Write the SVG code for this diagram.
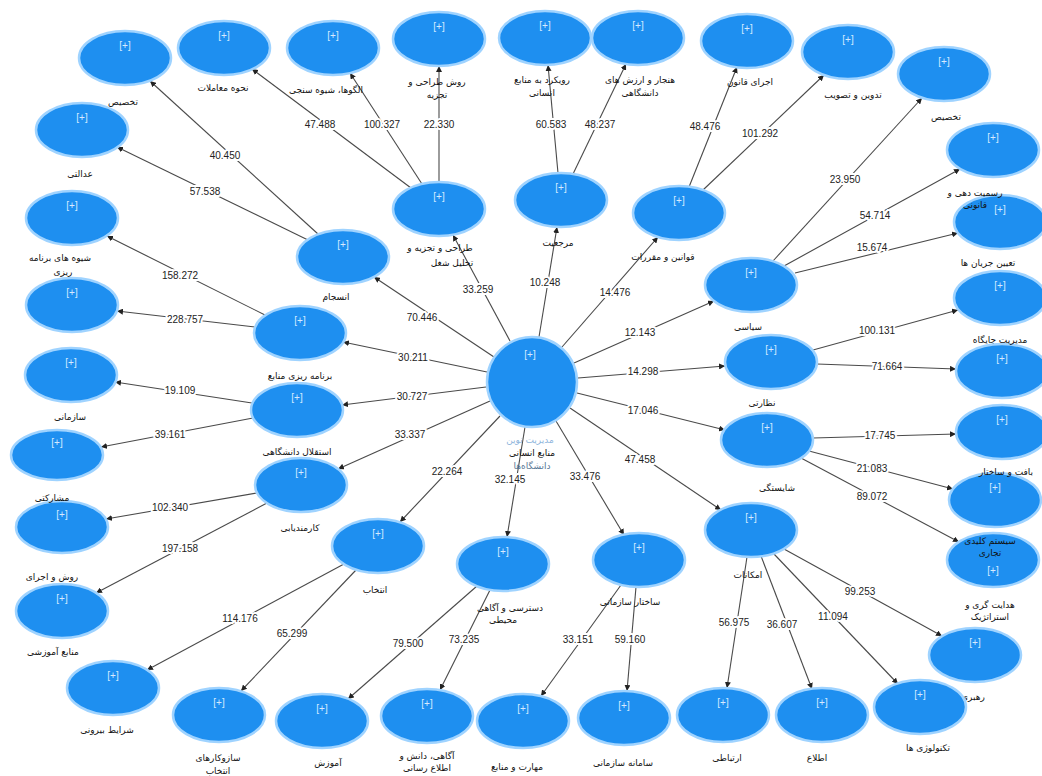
<svg xmlns="http://www.w3.org/2000/svg" width="1042" height="776" viewBox="0 0 1042 776">
<style>
.nd{fill:#1e8ff0;stroke:#9fd3ff;stroke-width:2.5}
.pl{font-family:"Liberation Sans",sans-serif;font-size:10px;fill:#d6ebff;text-anchor:middle}
.lb{font-family:"DejaVu Sans","Noto Sans",sans-serif;font-size:9px;fill:#111;text-anchor:middle}
.ln{stroke:#4a4a4a;stroke-width:1.1;fill:none;marker-end:url(#ah)}
.el{font-family:"Liberation Sans",sans-serif;font-size:10px;fill:#222;text-anchor:middle;stroke:#fff;stroke-width:4;paint-order:stroke;stroke-linejoin:round}
</style>
<defs>
<marker id="ah" viewBox="0 0 10 10" refX="10" refY="5" markerWidth="6" markerHeight="6" markerUnits="userSpaceOnUse" orient="auto">
<path d="M0,0 L10,5 L0,10 z" fill="#222"/>
</marker>
</defs>
<rect width="1042" height="776" fill="#fff"/>
<g id="connectors">
<line class="ln" x1="510" y1="341" x2="453" y2="235"/>
<line class="ln" x1="539" y1="337" x2="557" y2="227"/>
<line class="ln" x1="562" y1="347" x2="658" y2="237"/>
<line class="ln" x1="574" y1="363" x2="714" y2="301"/>
<line class="ln" x1="578" y1="378" x2="725" y2="366"/>
<line class="ln" x1="577" y1="393" x2="725" y2="430"/>
<line class="ln" x1="570" y1="408" x2="721" y2="510"/>
<line class="ln" x1="556" y1="421" x2="624" y2="535"/>
<line class="ln" x1="525" y1="427" x2="507" y2="537"/>
<line class="ln" x1="500" y1="416" x2="400" y2="522"/>
<line class="ln" x1="490" y1="401" x2="338" y2="469"/>
<line class="ln" x1="486" y1="387" x2="342" y2="405"/>
<line class="ln" x1="487" y1="372" x2="343" y2="342"/>
<line class="ln" x1="494" y1="357" x2="374" y2="277"/>
<line class="ln" x1="411" y1="188" x2="252" y2="69"/>
<line class="ln" x1="422" y1="184" x2="350" y2="73"/>
<line class="ln" x1="439" y1="182" x2="439" y2="66"/>
<line class="ln" x1="558" y1="173" x2="548" y2="65"/>
<line class="ln" x1="573" y1="174" x2="626" y2="64"/>
<line class="ln" x1="689" y1="187" x2="737" y2="67"/>
<line class="ln" x1="703" y1="190" x2="824" y2="75"/>
<line class="ln" x1="773" y1="261" x2="922" y2="98"/>
<line class="ln" x1="784" y1="266" x2="960" y2="169"/>
<line class="ln" x1="795" y1="273" x2="958" y2="233"/>
<line class="ln" x1="813" y1="350" x2="958" y2="310"/>
<line class="ln" x1="817" y1="364" x2="956" y2="369"/>
<line class="ln" x1="813" y1="438" x2="956" y2="434"/>
<line class="ln" x1="809" y1="451" x2="953" y2="489"/>
<line class="ln" x1="801" y1="458" x2="959" y2="542"/>
<line class="ln" x1="784" y1="549" x2="942" y2="636"/>
<line class="ln" x1="774" y1="554" x2="898" y2="684"/>
<line class="ln" x1="761" y1="556" x2="812" y2="689"/>
<line class="ln" x1="747" y1="557" x2="727" y2="688"/>
<line class="ln" x1="621" y1="585" x2="541" y2="696"/>
<line class="ln" x1="636" y1="587" x2="627" y2="691"/>
<line class="ln" x1="490" y1="590" x2="440" y2="690"/>
<line class="ln" x1="477" y1="586" x2="348" y2="699"/>
<line class="ln" x1="356" y1="570" x2="241" y2="691"/>
<line class="ln" x1="344" y1="564" x2="147" y2="670"/>
<line class="ln" x1="257" y1="493" x2="106" y2="519"/>
<line class="ln" x1="267" y1="503" x2="96" y2="593"/>
<line class="ln" x1="252" y1="403" x2="115" y2="382"/>
<line class="ln" x1="253" y1="418" x2="101" y2="447"/>
<line class="ln" x1="265" y1="315" x2="107" y2="236"/>
<line class="ln" x1="255" y1="327" x2="117" y2="311"/>
<line class="ln" x1="308" y1="240" x2="117" y2="147"/>
<line class="ln" x1="318" y1="234" x2="150" y2="81"/>
<text class="el" x="478" y="293">33.259</text>
<text class="el" x="545" y="286">10.248</text>
<text class="el" x="615" y="296">14.476</text>
<text class="el" x="640" y="336">12.143</text>
<text class="el" x="643" y="375">14.298</text>
<text class="el" x="643" y="414">17.046</text>
<text class="el" x="640" y="463">47.458</text>
<text class="el" x="585" y="480">33.476</text>
<text class="el" x="510" y="483">32.145</text>
<text class="el" x="447" y="475">22.264</text>
<text class="el" x="410" y="438">33.337</text>
<text class="el" x="412" y="400">30.727</text>
<text class="el" x="413" y="361">30.211</text>
<text class="el" x="422" y="321">70.446</text>
<text class="el" x="320" y="128">47.488</text>
<text class="el" x="382" y="128">100.327</text>
<text class="el" x="439" y="128">22.330</text>
<text class="el" x="551" y="128">60.583</text>
<text class="el" x="600" y="128">48.237</text>
<text class="el" x="705" y="130">48.476</text>
<text class="el" x="760" y="137">101.292</text>
<text class="el" x="845" y="183">23.950</text>
<text class="el" x="875" y="219">54.714</text>
<text class="el" x="872" y="251">15.674</text>
<text class="el" x="877" y="334">100.131</text>
<text class="el" x="887" y="370">71.664</text>
<text class="el" x="880" y="439">17.745</text>
<text class="el" x="872" y="472">21.083</text>
<text class="el" x="872" y="500">89.072</text>
<text class="el" x="860" y="595">99.253</text>
<text class="el" x="833" y="620">11.094</text>
<text class="el" x="782" y="628">36.607</text>
<text class="el" x="734" y="626">56.975</text>
<text class="el" x="578" y="643">33.151</text>
<text class="el" x="630" y="643">59.160</text>
<text class="el" x="464" y="643">73.235</text>
<text class="el" x="408" y="647">79.500</text>
<text class="el" x="292" y="637">65.299</text>
<text class="el" x="240" y="622">114.176</text>
<text class="el" x="170" y="511">102.340</text>
<text class="el" x="180" y="552">197.158</text>
<text class="el" x="180" y="394">19.109</text>
<text class="el" x="170" y="438">39.161</text>
<text class="el" x="180" y="279">158.272</text>
<text class="el" x="185" y="323">228.757</text>
<text class="el" x="205" y="195">57.538</text>
<text class="el" x="225" y="159">40.450</text>
</g>
<g id="n-C"><circle class="nd" cx="532" cy="382" r="45"/><text class="pl" x="530" y="358">[+]</text><text class="lb" x="530" y="443" style="fill:#8fb6dc">مدیریت نوین</text><text class="lb" x="532" y="456">منابع انسانی</text><text class="lb" x="532" y="469" style="fill:#5a7896">دانشگاه‌ها</text></g>
<g id="n-T1"><ellipse class="nd" cx="439" cy="209" rx="46" ry="27"/><text class="pl" x="439" y="200">[+]</text><text class="lb" x="440" y="251">طراحی و تجزیه و</text><text class="lb" x="452" y="266">تحلیل شغل</text></g>
<g id="n-T2"><ellipse class="nd" cx="561" cy="200" rx="46" ry="27"/><text class="pl" x="561" y="191">[+]</text><text class="lb" x="558" y="246">مرجعیت</text></g>
<g id="n-N1"><ellipse class="nd" cx="679" cy="213" rx="46" ry="27"/><text class="pl" x="679" y="204">[+]</text><text class="lb" x="663" y="260">قوانین و مقررات</text></g>
<g id="n-N2"><ellipse class="nd" cx="751" cy="285" rx="46" ry="27"/><text class="pl" x="751" y="276">[+]</text><text class="lb" x="748" y="330">سیاسی</text></g>
<g id="n-N3"><ellipse class="nd" cx="771" cy="362" rx="46" ry="27"/><text class="pl" x="771" y="353">[+]</text><text class="lb" x="762" y="406">نظارتی</text></g>
<g id="n-N4"><ellipse class="nd" cx="767" cy="440" rx="46" ry="27"/><text class="pl" x="767" y="431">[+]</text><text class="lb" x="777" y="491">شایستگی</text></g>
<g id="n-M8"><ellipse class="nd" cx="751" cy="530" rx="46" ry="27"/><text class="pl" x="751" y="521">[+]</text><text class="lb" x="748" y="578">امکانات</text></g>
<g id="n-M7"><ellipse class="nd" cx="639" cy="560" rx="46" ry="27"/><text class="pl" x="639" y="551">[+]</text><text class="lb" x="630" y="605">ساختار سازمانی</text></g>
<g id="n-M6"><ellipse class="nd" cx="503" cy="564" rx="46" ry="27"/><text class="pl" x="503" y="555">[+]</text><text class="lb" x="510" y="611">دسترسی و آگاهی</text><text class="lb" x="503" y="623">محیطی</text></g>
<g id="n-M5"><ellipse class="nd" cx="378" cy="546" rx="46" ry="27"/><text class="pl" x="378" y="537">[+]</text><text class="lb" x="375" y="593">انتخاب</text></g>
<g id="n-M4"><ellipse class="nd" cx="301" cy="485" rx="46" ry="27"/><text class="pl" x="301" y="476">[+]</text><text class="lb" x="300" y="531">کارمندیابی</text></g>
<g id="n-M3"><ellipse class="nd" cx="297" cy="410" rx="46" ry="27"/><text class="pl" x="297" y="401">[+]</text><text class="lb" x="297" y="455">استقلال دانشگاهی</text></g>
<g id="n-M2"><ellipse class="nd" cx="300" cy="333" rx="46" ry="27"/><text class="pl" x="300" y="324">[+]</text><text class="lb" x="300" y="379">برنامه ریزی منابع</text></g>
<g id="n-M1"><ellipse class="nd" cx="343" cy="257" rx="46" ry="27"/><text class="pl" x="343" y="248">[+]</text><text class="lb" x="336" y="300">انسجام</text></g>
<g id="n-A1"><ellipse class="nd" cx="125" cy="58" rx="46" ry="27"/><text class="pl" x="125" y="49">[+]</text><text class="lb" x="123" y="105">تخصیص</text></g>
<g id="n-A2"><ellipse class="nd" cx="224" cy="48" rx="46" ry="27"/><text class="pl" x="224" y="39">[+]</text><text class="lb" x="223" y="91">نحوه معاملات</text></g>
<g id="n-A3"><ellipse class="nd" cx="333" cy="48" rx="46" ry="27"/><text class="pl" x="333" y="39">[+]</text><text class="lb" x="326" y="93">الگوها، شیوه سنجی</text></g>
<g id="n-A4"><ellipse class="nd" cx="439" cy="39" rx="46" ry="27"/><text class="pl" x="439" y="30">[+]</text><text class="lb" x="437" y="85">روش طراحی و</text><text class="lb" x="437" y="98">تجزیه</text></g>
<g id="n-A5"><ellipse class="nd" cx="545" cy="38" rx="46" ry="27"/><text class="pl" x="545" y="29">[+]</text><text class="lb" x="542" y="83">رویکرد به منابع</text><text class="lb" x="542" y="96">انسانی</text></g>
<g id="n-A6"><ellipse class="nd" cx="638" cy="38" rx="46" ry="27"/><text class="pl" x="638" y="29">[+]</text><text class="lb" x="640" y="83">هنجار و ارزش های</text><text class="lb" x="640" y="96">دانشگاهی</text></g>
<g id="n-A7"><ellipse class="nd" cx="747" cy="41" rx="46" ry="27"/><text class="pl" x="747" y="32">[+]</text><text class="lb" x="750" y="85">اجرای قانون</text></g>
<g id="n-A8"><ellipse class="nd" cx="848" cy="52" rx="46" ry="27"/><text class="pl" x="848" y="43">[+]</text><text class="lb" x="853" y="98">تدوین و تصویب</text></g>
<g id="n-A9"><ellipse class="nd" cx="944" cy="74" rx="46" ry="27"/><text class="pl" x="944" y="65">[+]</text><text class="lb" x="946" y="120">تخصیص</text></g>
<g id="n-R8"><ellipse class="nd" cx="975" cy="655" rx="46" ry="27"/><text class="pl" x="975" y="646">[+]</text><text class="lb" x="973" y="700">رهبری</text></g>
<g id="n-R7"><ellipse class="nd" cx="993" cy="560" rx="46" ry="27"/><text class="pl" x="993" y="574">[+]</text><text class="lb" x="990" y="608">هدایت گری و</text><text class="lb" x="990" y="620">استراتژیک</text></g>
<g id="n-R6"><ellipse class="nd" cx="995" cy="500" rx="46" ry="27"/><text class="pl" x="995" y="491">[+]</text><text class="lb" x="990" y="544">سیستم کلیدی</text><text class="lb" x="990" y="556">تجاری</text></g>
<g id="n-R5"><ellipse class="nd" cx="1002" cy="432" rx="46" ry="27"/><text class="pl" x="1002" y="423">[+]</text><text class="lb" x="1006" y="475">بافت و ساختار</text></g>
<g id="n-R4"><ellipse class="nd" cx="1002" cy="371" rx="46" ry="27"/><text class="pl" x="1002" y="362">[+]</text></g>
<g id="n-R3"><ellipse class="nd" cx="1000" cy="298" rx="46" ry="27"/><text class="pl" x="1000" y="289">[+]</text><text class="lb" x="1000" y="343">مدیریت جایگاه</text></g>
<g id="n-R2"><ellipse class="nd" cx="1000" cy="222" rx="46" ry="27"/><text class="pl" x="1000" y="213">[+]</text><text class="lb" x="988" y="266">تعیین جریان ها</text></g>
<g id="n-R1"><ellipse class="nd" cx="993" cy="150" rx="46" ry="27"/><text class="pl" x="993" y="141">[+]</text><text class="lb" x="975" y="196">رسمیت دهی و</text><text class="lb" x="975" y="208">قانونی</text></g>
<g id="n-B1"><ellipse class="nd" cx="920" cy="707" rx="46" ry="27"/><text class="pl" x="920" y="698">[+]</text><text class="lb" x="928" y="751">تکنولوژی ها</text></g>
<g id="n-B2"><ellipse class="nd" cx="822" cy="715" rx="46" ry="27"/><text class="pl" x="822" y="706">[+]</text><text class="lb" x="817" y="761">اطلاع</text></g>
<g id="n-B3"><ellipse class="nd" cx="723" cy="715" rx="46" ry="27"/><text class="pl" x="723" y="706">[+]</text><text class="lb" x="727" y="761">ارتباطی</text></g>
<g id="n-B4"><ellipse class="nd" cx="624" cy="718" rx="46" ry="27"/><text class="pl" x="624" y="709">[+]</text><text class="lb" x="623" y="766">سامانه سازمانی</text></g>
<g id="n-B5"><ellipse class="nd" cx="523" cy="721" rx="46" ry="27"/><text class="pl" x="523" y="712">[+]</text><text class="lb" x="517" y="770">مهارت و منابع</text></g>
<g id="n-B6"><ellipse class="nd" cx="427" cy="716" rx="46" ry="27"/><text class="pl" x="427" y="707">[+]</text><text class="lb" x="427" y="759">آگاهی، دانش و</text><text class="lb" x="427" y="771">اطلاع رسانی</text></g>
<g id="n-B7"><ellipse class="nd" cx="322" cy="721" rx="46" ry="27"/><text class="pl" x="322" y="712">[+]</text><text class="lb" x="328" y="766">آموزش</text></g>
<g id="n-B8"><ellipse class="nd" cx="219" cy="715" rx="46" ry="27"/><text class="pl" x="219" y="706">[+]</text><text class="lb" x="218" y="761">سازوکارهای</text><text class="lb" x="218" y="774">انتخاب</text></g>
<g id="n-B9"><ellipse class="nd" cx="113" cy="688" rx="46" ry="27"/><text class="pl" x="113" y="679">[+]</text><text class="lb" x="107" y="733">شرایط بیرونی</text></g>
<g id="n-L7"><ellipse class="nd" cx="62" cy="611" rx="46" ry="27"/><text class="pl" x="62" y="602">[+]</text><text class="lb" x="53" y="655">منابع آموزشی</text></g>
<g id="n-L6"><ellipse class="nd" cx="62" cy="527" rx="46" ry="26"/><text class="pl" x="62" y="518">[+]</text><text class="lb" x="52" y="580">روش و اجرای</text></g>
<g id="n-L5"><ellipse class="nd" cx="57" cy="455" rx="46" ry="25"/><text class="pl" x="57" y="446">[+]</text><text class="lb" x="52" y="501">مشارکتی</text></g>
<g id="n-L4"><ellipse class="nd" cx="71" cy="375" rx="46" ry="27"/><text class="pl" x="71" y="366">[+]</text><text class="lb" x="70" y="420">سازمانی</text></g>
<g id="n-L3"><ellipse class="nd" cx="72" cy="305" rx="46" ry="27"/><text class="pl" x="72" y="296">[+]</text></g>
<g id="n-L2"><ellipse class="nd" cx="72" cy="218" rx="46" ry="27"/><text class="pl" x="72" y="209">[+]</text><text class="lb" x="60" y="261">شیوه های برنامه</text><text class="lb" x="63" y="275">ریزی</text></g>
<g id="n-L1"><ellipse class="nd" cx="82" cy="130" rx="46" ry="27"/><text class="pl" x="82" y="121">[+]</text><text class="lb" x="80" y="177">عدالتی</text></g>
</svg>
